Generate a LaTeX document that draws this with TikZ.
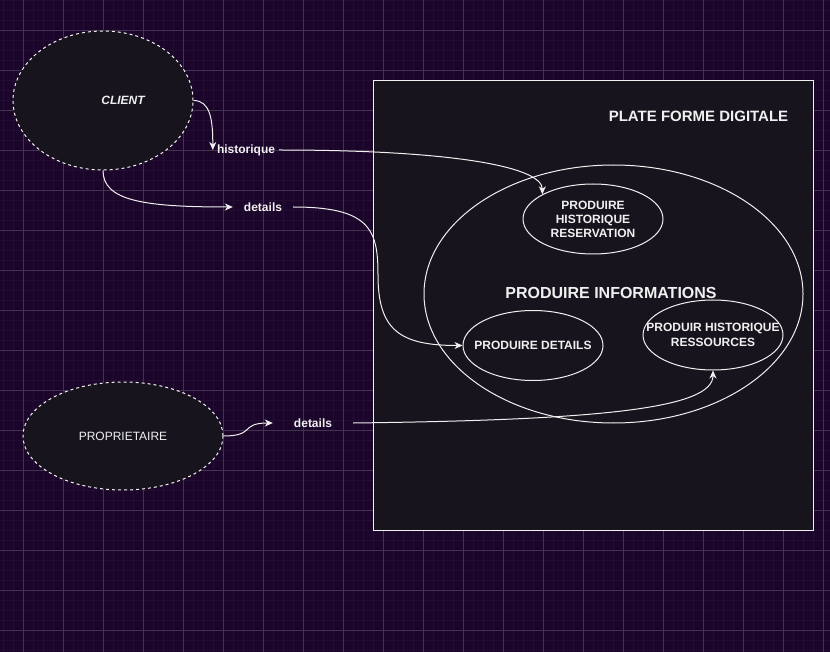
\documentclass[tikz,border=0pt]{standalone}
\usepackage{fontspec}
\setmainfont{Liberation Sans}
\usetikzlibrary{shapes.geometric,arrows.meta}

\definecolor{canvas}{HTML}{1B052B}
\definecolor{gridminor}{HTML}{220E31}
\definecolor{gridmajor}{HTML}{42344F}
\definecolor{boxfill}{HTML}{18141D}
\definecolor{ink}{HTML}{F0F0F0}

\tikzset{
  actor/.style={ellipse,draw=ink!85,line width=1pt,dash pattern=on 3pt off 3pt,fill=boxfill,inner sep=0pt,text=ink},
  process/.style={ellipse,draw=ink,line width=1pt,fill=boxfill,inner xsep=-22pt,inner ysep=0pt,minimum width=140pt,minimum height=70pt,align=center,text=ink,font=\fontsize{12}{14}\selectfont\bfseries},
  flowlabel/.style={inner sep=0pt,text=ink,font=\fontsize{12}{14}\selectfont\bfseries},
  flow/.style={draw=ink,line width=1pt,-{Stealth[length=8pt,width=7pt,inset=2.5pt]}},
}

\begin{document}
\begin{tikzpicture}[x=1pt,y=-1pt]

\useasboundingbox (0,0) rectangle (830,652);
\fill[canvas] (0,0) rectangle (830,652);

% grid
\foreach \x in {3.5,13.5,...,823.5}
	\draw[gridminor,line width=1pt] (\x,0) -- (\x,652);
\foreach \y in {0.5,10.5,...,650.5}
	\draw[gridminor,line width=1pt] (0,\y) -- (830,\y);
\foreach \x in {23.5,63.5,...,823.5}
	\draw[gridmajor,line width=1pt] (\x,0) -- (\x,652);
\foreach \y in {30.5,70.5,...,630.5}
	\draw[gridmajor,line width=1pt] (0,\y) -- (830,\y);

% plate forme
\draw[ink,line width=1pt,fill=boxfill] (373.5,80.5) rectangle (813.5,530.5);
\node[text=ink,font=\fontsize{15}{18}\selectfont\bfseries] (plateforme) at (698.5,116) {PLATE FORME DIGITALE};
\node[ellipse,draw=ink,line width=1pt,minimum width=379pt,minimum height=258pt,inner sep=0pt] (informations) at (613.5,294) {};
\node[text=ink,font=\fontsize{16}{19}\selectfont\bfseries] (infotext) at (611,293) {PRODUIRE INFORMATIONS};

\node[process] (reservation) at (593,219) {PRODUIRE\\HISTORIQUE\\RESERVATION};
\node[process] (produiredetails) at (533,345.5) {PRODUIRE DETAILS};
\node[process,font=\fontsize{12}{15}\selectfont\bfseries] (ressources) at (713,335) {PRODUIR HISTORIQUE\\RESSOURCES};

% acteurs
\node[actor,minimum width=180pt,minimum height=139pt,
	label={[text=ink,xshift=20pt,font=\fontsize{12}{14}\selectfont\bfseries\itshape]center:CLIENT}] (client) at (103,100.5) {};
\node[actor,minimum width=200pt,minimum height=108pt,font=\fontsize{12}{14}\selectfont] (proprietaire) at (123,436) {PROPRIETAIRE};

% flux
\node[flowlabel,minimum width=66pt] (historique) at (246,150) {historique};
\node[flowlabel,minimum width=60pt] (details) at (263,207) {details};
\node[flowlabel,minimum width=80pt] (detailsb) at (313,423) {details};
\coordinate (bend) at (378,275);

\draw[flow] (client.east) .. controls +(17,0) and +(0,-30) .. (historique.west);
\draw[flow] (historique.east) .. controls +(170,0) and +(0,-28) .. (reservation.154);
\draw[flow] (client.south) .. controls +(0,30) and +(-90,0) .. (details.west);
\draw[flow] (details.east) .. controls +(77,0) and +(0,-45) .. (bend) .. controls +(0,55) and +(-63,0) .. (produiredetails.west);
\draw[flow] (proprietaire.east) .. controls +(32,0) and +(-33,0) .. (detailsb.west);
\draw[flow] (detailsb.east) .. controls +(247,-3) and +(0,38) .. (ressources.south);

\end{tikzpicture}
\end{document}
